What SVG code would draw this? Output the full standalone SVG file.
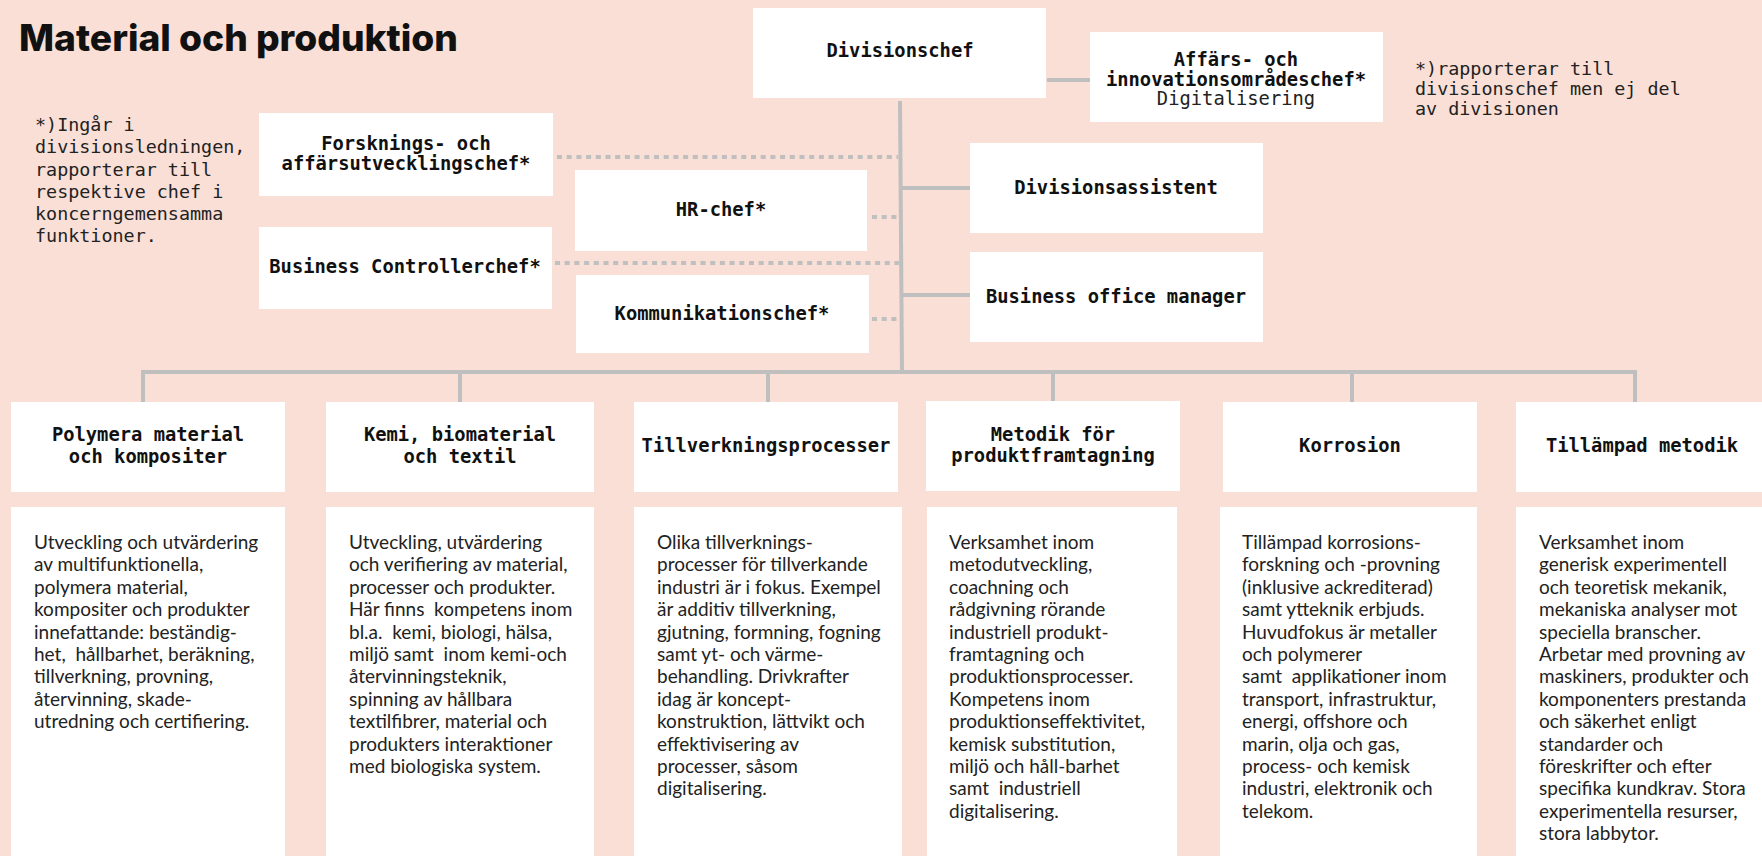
<svg xmlns="http://www.w3.org/2000/svg" width="1762" height="856" viewBox="0 0 1762 856">
<style>
.bg{fill:#f9dfd6}
.box{fill:#ffffff}
.lbl{font-family:"DejaVu Sans Mono","Liberation Mono",monospace;font-weight:bold;font-size:18.8px;fill:#111;text-anchor:middle}
.lblr{font-family:"DejaVu Sans Mono","Liberation Mono",monospace;font-size:18.8px;fill:#222;text-anchor:middle}
.note{font-family:"DejaVu Sans Mono","Liberation Mono",monospace;font-size:18.4px;fill:#222}
.body{font-family:Lato,"Liberation Sans",sans-serif;font-size:19px;fill:#222;white-space:pre}
.title{font-family:Inter,"Liberation Sans",sans-serif;font-weight:800;font-size:37px;fill:#111}
.ln{stroke:#bfbfbf;stroke-width:4;fill:none}
.dot{stroke:#bfbfbf;stroke-width:4;fill:none;stroke-dasharray:5 4.7}
</style>
<rect class="bg" x="0" y="0" width="1762" height="856"/>
<text class="title" x="19" y="51" textLength="439" lengthAdjust="spacingAndGlyphs">Material och produktion</text>
<text class="note"><tspan x="35" y="131">*)Ingår i</tspan><tspan x="35" y="153">divisionsledningen,</tspan><tspan x="35" y="175.5">rapporterar till</tspan><tspan x="35" y="198">respektive chef i</tspan><tspan x="35" y="220">koncerngemensamma</tspan><tspan x="35" y="242">funktioner.</tspan></text>
<text class="note"><tspan x="1415" y="75">*)rapporterar till</tspan><tspan x="1415" y="95">divisionschef men ej del</tspan><tspan x="1415" y="115">av divisionen</tspan></text>
<g id="connectors">
<line class="ln" x1="900" y1="101" x2="902" y2="374"/>
<line class="ln" x1="1047" y1="80" x2="1090" y2="80"/>
<line class="ln" x1="901" y1="188" x2="970" y2="188"/>
<line class="ln" x1="901" y1="295" x2="970" y2="295"/>
<line class="dot" x1="557" y1="157" x2="898" y2="157"/>
<line class="dot" x1="872" y1="217" x2="898" y2="217"/>
<line class="dot" x1="555" y1="263" x2="899" y2="263"/>
<line class="dot" x1="872" y1="319" x2="899" y2="319"/>
<polyline class="ln" points="143,402 143,372 1635,372 1635,402"/>
<line class="ln" x1="460" y1="372" x2="460" y2="402"/>
<line class="ln" x1="768" y1="372" x2="768" y2="402"/>
<line class="ln" x1="1053" y1="372" x2="1053" y2="401"/>
<line class="ln" x1="1352" y1="372" x2="1352" y2="402"/>
</g>
<g id="divisionschef"><rect class="box" x="753" y="8" width="293" height="90"/><text class="lbl" x="900" y="57">Divisionschef</text></g>
<g id="affars"><rect class="box" x="1090" y="32" width="293" height="90"/><text class="lbl" x="1236" y="66">Affärs- och</text><text class="lbl" x="1236" y="86">innovationsområdeschef*</text><text class="lblr" x="1236" y="105">Digitalisering</text></g>
<g id="forskning"><rect class="box" x="259" y="113" width="294" height="83"/><text class="lbl" x="406" y="150">Forsknings- och</text><text class="lbl" x="406" y="170">affärsutvecklingschef*</text></g>
<g id="hr"><rect class="box" x="575" y="170" width="292" height="81"/><text class="lbl" x="721" y="216">HR-chef*</text></g>
<g id="bc"><rect class="box" x="259" y="227" width="293" height="82"/><text class="lbl" x="405" y="273">Business Controllerchef*</text></g>
<g id="komm"><rect class="box" x="576" y="275" width="293" height="78"/><text class="lbl" x="722" y="320">Kommunikationschef*</text></g>
<g id="assistent"><rect class="box" x="970" y="143" width="293" height="90"/><text class="lbl" x="1116" y="194">Divisionsassistent</text></g>
<g id="bom"><rect class="box" x="970" y="252" width="293" height="90"/><text class="lbl" x="1116" y="303">Business office manager</text></g>
<g id="col1"><rect class="box" x="11" y="402" width="274" height="90"/><text class="lbl" x="148" y="441">Polymera material</text><text class="lbl" x="148" y="463">och kompositer</text>
<rect class="box" x="11" y="507" width="274" height="360"/>
<text class="body"><tspan x="34" y="549">Utveckling och utvärdering</tspan><tspan x="34" y="571.4">av multifunktionella,</tspan><tspan x="34" y="593.8">polymera material,</tspan><tspan x="34" y="616.2">kompositer och produkter</tspan><tspan x="34" y="638.6">innefattande: beständig-</tspan><tspan x="34" y="661">het,  hållbarhet, beräkning,</tspan><tspan x="34" y="683.4">tillverkning, provning,</tspan><tspan x="34" y="705.8">återvinning, skade-</tspan><tspan x="34" y="728.2">utredning och certifiering.</tspan></text></g>
<g id="col2"><rect class="box" x="326" y="402" width="268" height="90"/><text class="lbl" x="460" y="441">Kemi, biomaterial</text><text class="lbl" x="460" y="463">och textil</text>
<rect class="box" x="326" y="507" width="268" height="360"/>
<text class="body"><tspan x="349" y="549">Utveckling, utvärdering</tspan><tspan x="349" y="571.4">och verifiering av material,</tspan><tspan x="349" y="593.8">processer och produkter.</tspan><tspan x="349" y="616.2">Här finns  kompetens inom</tspan><tspan x="349" y="638.6">bl.a.  kemi, biologi, hälsa,</tspan><tspan x="349" y="661">miljö samt  inom kemi-och</tspan><tspan x="349" y="683.4">återvinningsteknik,</tspan><tspan x="349" y="705.8">spinning av hållbara</tspan><tspan x="349" y="728.2">textilfibrer, material och</tspan><tspan x="349" y="750.6">produkters interaktioner</tspan><tspan x="349" y="773">med biologiska system.</tspan></text></g>
<g id="col3"><rect class="box" x="634" y="402" width="264" height="90"/><text class="lbl" x="766" y="452">Tillverkningsprocesser</text>
<rect class="box" x="634" y="507" width="268" height="360"/>
<text class="body"><tspan x="657" y="549">Olika tillverknings-</tspan><tspan x="657" y="571.4">processer för tillverkande</tspan><tspan x="657" y="593.8">industri är i fokus. Exempel</tspan><tspan x="657" y="616.2">är additiv tillverkning,</tspan><tspan x="657" y="638.6">gjutning, formning, fogning</tspan><tspan x="657" y="661">samt yt- och värme-</tspan><tspan x="657" y="683.4">behandling. Drivkrafter</tspan><tspan x="657" y="705.8">idag är koncept-</tspan><tspan x="657" y="728.2">konstruktion, lättvikt och</tspan><tspan x="657" y="750.6">effektivisering av</tspan><tspan x="657" y="773">processer, såsom</tspan><tspan x="657" y="795.4">digitalisering.</tspan></text></g>
<g id="col4"><rect class="box" x="926" y="401" width="254" height="90"/><text class="lbl" x="1053" y="441">Metodik för</text><text class="lbl" x="1053" y="462">produktframtagning</text>
<rect class="box" x="927" y="507" width="250" height="360"/>
<text class="body"><tspan x="949" y="549">Verksamhet inom</tspan><tspan x="949" y="571.4">metodutveckling,</tspan><tspan x="949" y="593.8">coachning och</tspan><tspan x="949" y="616.2">rådgivning rörande</tspan><tspan x="949" y="638.6">industriell produkt-</tspan><tspan x="949" y="661">framtagning och</tspan><tspan x="949" y="683.4">produktionsprocesser.</tspan><tspan x="949" y="705.8">Kompetens inom</tspan><tspan x="949" y="728.2">produktionseffektivitet,</tspan><tspan x="949" y="750.6">kemisk substitution,</tspan><tspan x="949" y="773">miljö och håll-barhet</tspan><tspan x="949" y="795.4">samt  industriell</tspan><tspan x="949" y="817.8">digitalisering.</tspan></text></g>
<g id="col5"><rect class="box" x="1223" y="402" width="254" height="90"/><text class="lbl" x="1350" y="452">Korrosion</text>
<rect class="box" x="1220" y="507" width="257" height="360"/>
<text class="body"><tspan x="1242" y="549">Tillämpad korrosions-</tspan><tspan x="1242" y="571.4">forskning och -provning</tspan><tspan x="1242" y="593.8">(inklusive ackrediterad)</tspan><tspan x="1242" y="616.2">samt ytteknik erbjuds.</tspan><tspan x="1242" y="638.6">Huvudfokus är metaller</tspan><tspan x="1242" y="661">och polymerer</tspan><tspan x="1242" y="683.4">samt  applikationer inom</tspan><tspan x="1242" y="705.8">transport, infrastruktur,</tspan><tspan x="1242" y="728.2">energi, offshore och</tspan><tspan x="1242" y="750.6">marin, olja och gas,</tspan><tspan x="1242" y="773">process- och kemisk</tspan><tspan x="1242" y="795.4">industri, elektronik och</tspan><tspan x="1242" y="817.8">telekom.</tspan></text></g>
<g id="col6"><rect class="box" x="1516" y="402" width="260" height="90"/><text class="lbl" x="1642" y="452">Tillämpad metodik</text>
<rect class="box" x="1516" y="507" width="260" height="360"/>
<text class="body"><tspan x="1539" y="549">Verksamhet inom</tspan><tspan x="1539" y="571.4">generisk experimentell</tspan><tspan x="1539" y="593.8">och teoretisk mekanik,</tspan><tspan x="1539" y="616.2">mekaniska analyser mot</tspan><tspan x="1539" y="638.6">speciella branscher.</tspan><tspan x="1539" y="661">Arbetar med provning av</tspan><tspan x="1539" y="683.4">maskiners, produkter och</tspan><tspan x="1539" y="705.8">komponenters prestanda</tspan><tspan x="1539" y="728.2">och säkerhet enligt</tspan><tspan x="1539" y="750.6">standarder och</tspan><tspan x="1539" y="773">föreskrifter och efter</tspan><tspan x="1539" y="795.4">specifika kundkrav. Stora</tspan><tspan x="1539" y="817.8">experimentella resurser,</tspan><tspan x="1539" y="840.2">stora labbytor.</tspan></text></g>
</svg>
